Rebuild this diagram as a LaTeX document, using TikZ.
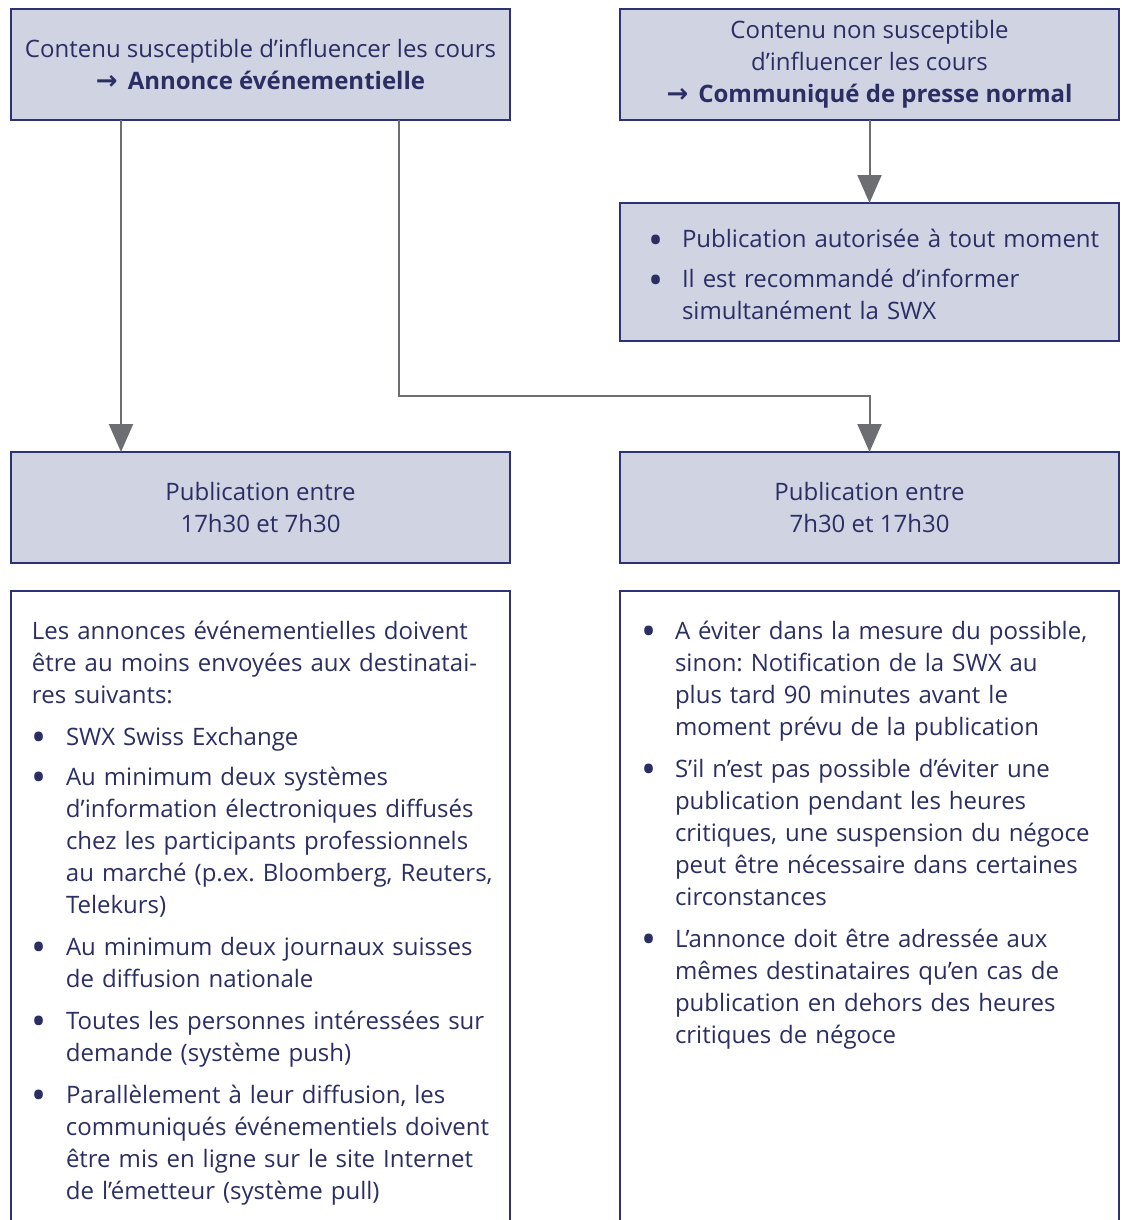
\documentclass[tikz,border=0pt]{standalone}
\usepackage{fontspec}
\setmainfont{Open Sans}
\newfontfamily\arrowfont{DejaVu Sans}
\usepackage{xcolor}
\usetikzlibrary{arrows.meta, positioning, calc}
\definecolor{boxfill}{HTML}{D0D3E2}
\definecolor{boxline}{HTML}{2E3176}
\definecolor{inktext}{HTML}{2B2E63}
\definecolor{flowgray}{HTML}{6D6E72}
\frenchspacing
\newcommand{\hdrarrow}{{\arrowfont\bfseries\fontsize{13}{16}\selectfont →}\hspace{5pt}}
\newcommand{\lines}[1]{\par\noindent\begin{tabular}[t]{@{}l@{}}#1\end{tabular}\par}
\newcommand{\bullmark}{\raisebox{-3.4pt}[0pt][0pt]{\fontsize{20}{16}\selectfont\textbullet}}
\newcommand{\bitem}[1]{\par\noindent\makebox[17pt][l]{\bullmark}\begin{tabular}[t]{@{}l@{}}#1\end{tabular}\par}
\newcommand{\bgap}{\par\vspace{4pt}}

\begin{document}
\begin{tikzpicture}[node distance=55pt, >={Triangle[width=12pt,length=14pt]}, font=\fontsize{12}{16}\selectfont, text=inktext]
    \tikzstyle{hdr}   = [rectangle, draw=boxline, line width=0.75pt, outer sep=0pt, fill=boxfill, minimum width=249.5pt, minimum height=55.5pt, align=center]
    \tikzstyle{note}  = [rectangle, draw=boxline, line width=0.75pt, outer sep=0pt, fill=boxfill, minimum width=249.5pt, minimum height=69pt, text width=221.5pt, inner xsep=14pt, align=left]
    \tikzstyle{rules} = [rectangle, draw=boxline, line width=0.75pt, outer sep=0pt, minimum width=249.5pt, text width=228.5pt, inner xsep=10.5pt, inner ysep=8pt, text depth=330pt, align=left]
    \tikzstyle{flow}  = [->, draw=flowgray, line width=1pt]

    \useasboundingbox (0,0) rectangle (561pt,-610pt);

    \node (infl) [hdr, anchor=north west] at (5.5pt,-4.5pt)
        {Contenu susceptible d’influencer les cours\\\textbf{\hdrarrow Annonce événementielle}};
    \node (noninfl) [hdr, right=of infl]
        {Contenu non susceptible\\d’influencer les cours\\\textbf{\hdrarrow Communiqué de presse normal}};
    \node (anytime) [note, below=41.5pt of noninfl]
        {\bitem{Publication autorisée à tout moment}\bgap
         \bitem{Il est recommandé d’informer\\simultanément la SWX}};

    \node (night) [hdr, below=166pt of infl] {Publication entre\\17h30 et 7h30};
    \node (day)   [hdr, right=of night] {Publication entre\\7h30 et 17h30};

    \node (eventlist) [rules, below=14pt of night]
        {\lines{Les annonces événementielles doivent\\être au moins envoyées aux destinatai-\\res suivants:}\bgap
         \bitem{SWX Swiss Exchange}\bgap
         \bitem{Au minimum deux systèmes\\d’information électroniques diffusés\\chez les participants professionnels\\au marché (p.ex. Bloomberg, Reuters,\\Telekurs)}\bgap
         \bitem{Au minimum deux journaux suisses\\de diffusion nationale}\bgap
         \bitem{Toutes les personnes intéressées sur\\demande (système push)}\bgap
         \bitem{Parallèlement à leur diffusion, les\\communiqués événementiels doivent\\être mis en ligne sur le site Internet\\de l’émetteur (système pull)}};
    \node (dayrules) [rules, below=14pt of day]
        {\bitem{A éviter dans la mesure du possible,\\sinon: Notification de la SWX au\\plus tard 90 minutes avant le\\moment prévu de la publication}\bgap
         \bitem{S’il n’est pas possible d’éviter une\\publication pendant les heures\\critiques, une suspension du négoce\\peut être nécessaire dans certaines\\circonstances}\bgap
         \bitem{L’annonce doit être adressée aux\\mêmes destinataires qu’en cas de\\publication en dehors des heures\\critiques de négoce}};

    \draw [flow] ([xshift=55pt]infl.south west) -- ([xshift=55pt]night.north west);
    \draw [flow] ([xshift=194pt]infl.south west) |- ([yshift=28pt]day.north) -- (day.north);
    \draw [flow] (noninfl) -- (anytime);
\end{tikzpicture}
\end{document}
